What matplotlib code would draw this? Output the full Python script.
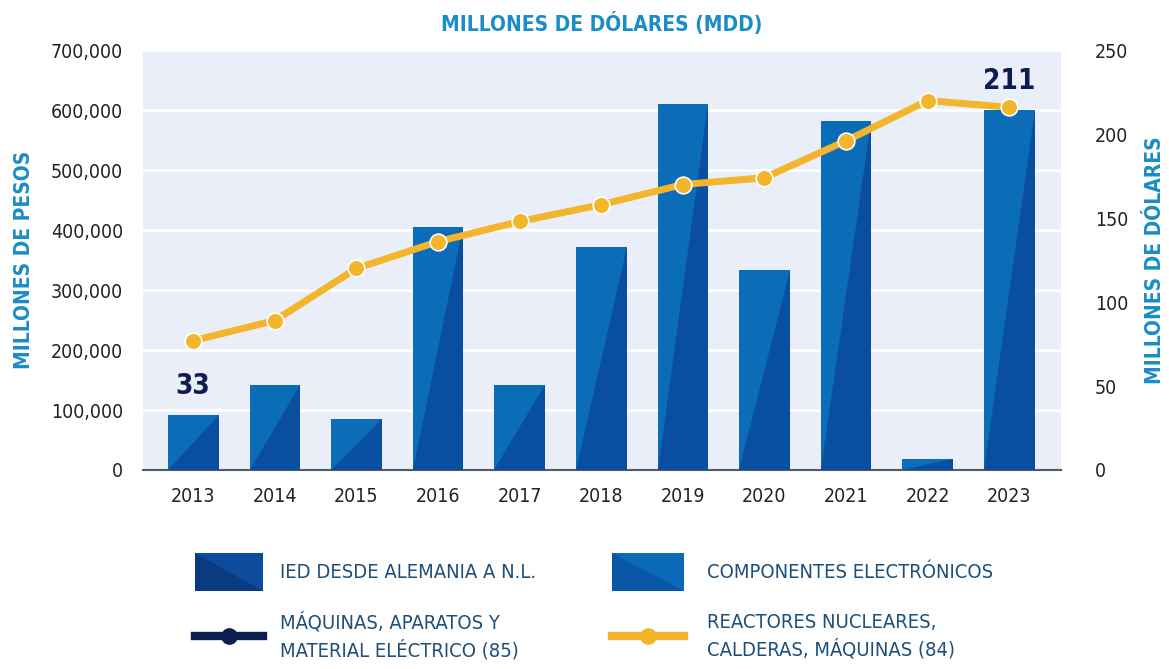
import matplotlib.pyplot as plt
from matplotlib.patches import Polygon, Rectangle
from matplotlib.lines import Line2D
import numpy as np

years = ['2013', '2014', '2015', '2016', '2017', '2018', '2019', '2020', '2021', '2022', '2023']
ied_pesos = [92000, 142000, 85000, 405000, 142000, 372000, 610000, 333000, 582000, 18000, 600000]
reactores_mdd = [77, 89, 120, 136, 148, 158, 170, 174, 196, 220, 216]
bar_notes = {0: '33', 10: '211'}

light_blue = '#0b6cb8'
dark_blue = '#0a4e9f'
yellow = '#f2b52c'
navy = '#0c1d4f'
label_blue = '#1a8cc8'
bg = '#e9eef8'

plt.rcParams['font.family'] = ['DejaVu Sans']
plt.rcParams['font.stretch'] = 'condensed'

fig = plt.figure(figsize=(11.69, 6.69), dpi=100)
ax = fig.add_axes([0.122, 0.2975, 0.786, 0.6275])
ax.set_facecolor(bg)

x = np.arange(len(years))
w = 0.62
ax.bar(x, ied_pesos, w, color=light_blue, zorder=2)
for xi, h in zip(x, ied_pesos):
    tri = Polygon([(xi - w / 2, 0), (xi + w / 2, 0), (xi + w / 2, h)],
                  closed=True, facecolor=dark_blue, edgecolor='none', zorder=3)
    ax.add_patch(tri)

for i, t in bar_notes.items():
    ax.text(x[i], ied_pesos[i] + 25000, t, ha='center', va='bottom',
            fontsize=20, fontweight='bold', color=navy, zorder=5)

ax.set_ylim(0, 700000)
ax.set_xlim(-0.62, 10.64)
ax.set_yticks(np.arange(0, 700001, 100000))
ax.set_yticklabels([f'{v:,}' for v in range(0, 700001, 100000)])
ax.set_xticks(x)
ax.set_xticklabels(years)
ax.grid(axis='y', color='white', linewidth=2.0, zorder=1)
ax.set_axisbelow(True)
for s in ['top', 'right', 'left']:
    ax.spines[s].set_visible(False)
ax.spines['bottom'].set_color('#555a66')
ax.spines['bottom'].set_linewidth(1.5)
ax.tick_params(axis='both', length=0, labelsize=14, colors='#222222')
ax.tick_params(axis='x', pad=12)
ax.tick_params(axis='y', pad=14)
ax.set_ylabel('MILLONES DE PESOS', fontsize=15, color=label_blue,
              fontweight='bold', labelpad=12)

ax2 = ax.twinx()
ax2.plot(x, reactores_mdd, color=yellow, linewidth=5, marker='o', markersize=12,
         markeredgecolor='white', markeredgewidth=1.2, zorder=6)
ax2.set_ylim(0, 250)
ax2.set_yticks(np.arange(0, 251, 50))
for s in ['top', 'right', 'left', 'bottom']:
    ax2.spines[s].set_visible(False)
ax2.tick_params(axis='y', length=0, labelsize=14, colors='#222222', pad=24)
ax2.set_ylabel('MILLONES DE DÓLARES', fontsize=15, color=label_blue,
               fontweight='bold', labelpad=12)

ax.set_title('MILLONES DE DÓLARES (MDD)', fontsize=15, fontweight='bold',
             color=label_blue, pad=14)

# legend drawn in pixel space below the plot
lg = fig.add_axes([0, 0, 1, 1], zorder=-1)
lg.set_xlim(0, 1169)
lg.set_ylim(669, 0)
lg.axis('off')

def split_patch(x0, y0, wd, ht, c1, c2):
    lg.add_patch(Rectangle((x0, y0), wd, ht, facecolor=c1, edgecolor='none'))
    lg.add_patch(Polygon([(x0, y0), (x0 + wd, y0 + ht), (x0, y0 + ht)],
                         closed=True, facecolor=c2, edgecolor='none'))

split_patch(195, 553, 68, 38, '#0d4c9c', '#0a3a80')
split_patch(612, 553, 72, 38, '#0b6ab8', '#0a57a6')
lg.add_line(Line2D([195, 263], [636, 636], color=navy, linewidth=6))
lg.plot([229], [636], marker='o', markersize=11, color=navy)
lg.add_line(Line2D([612, 684], [636, 636], color=yellow, linewidth=6))
lg.plot([648], [636], marker='o', markersize=11, color=yellow)

txt = dict(fontsize=14.5, color='#1d4f7a', va='center', ha='left')
lg.text(280, 572, 'IED DESDE ALEMANIA A N.L.', **txt)
lg.text(707, 572, 'COMPONENTES ELECTRÓNICOS', **txt)
lg.text(280, 636, 'MÁQUINAS, APARATOS Y\nMATERIAL ELÉCTRICO (85)', linespacing=1.45, **txt)
lg.text(707, 636, 'REACTORES NUCLEARES,\nCALDERAS, MÁQUINAS (84)', linespacing=1.45, **txt)

fig.savefig('out.png', dpi=100)
